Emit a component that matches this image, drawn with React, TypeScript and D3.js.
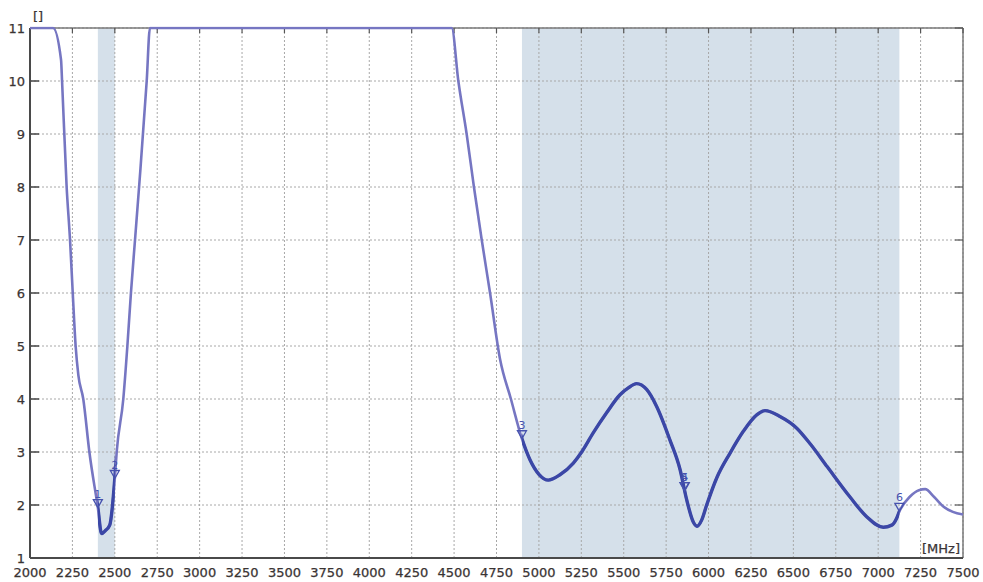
import React from "react";
import * as d3 from "d3";

const freqs = [
  2000, 2136, 2183, 2189, 2216, 2236, 2252, 2269, 2285, 2314, 2350, 2400, 2422, 2445, 2470, 2500,
  2511, 2550, 2574, 2595, 2619, 2643, 2688, 2707, 4486, 4525, 4574, 4617, 4663, 4712, 4771, 4835,
  4900, 4948, 5000, 5055, 5124, 5203, 5252, 5320, 5399, 5478, 5527, 5576, 5635, 5694, 5772,
  5832, 5871, 5910, 5932, 5960, 5989, 6048, 6127, 6205, 6284, 6333, 6421, 6520, 6600,
  6700, 6834, 6932, 7030, 7080, 7109, 7125, 7188, 7240, 7277, 7330, 7384, 7440, 7500,
];
const values = [
  11, 11, 10.4, 10.0, 8, 7, 6, 5, 4.45, 4.0, 3.0, 1.95, 1.46, 1.52, 1.62, 2.5,
  3.0, 4, 5, 6, 7, 8, 10, 11, 11, 10, 9, 8, 7, 6, 4.75, 4.0,
  3.25, 2.85, 2.58, 2.47, 2.57, 2.79, 3.0, 3.36, 3.74, 4.08, 4.21, 4.29, 4.18, 3.86, 3.23,
  2.67, 2.1, 1.68, 1.6, 1.72, 2.0, 2.51, 2.98, 3.39, 3.7, 3.78, 3.67, 3.45, 3.15,
  2.72, 2.15, 1.78, 1.58, 1.62, 1.75, 1.88, 2.16, 2.28, 2.3, 2.15, 1.97, 1.87, 1.82,
];

const bandStarts = [2400, 4900];
const bandEnds = [2500, 7125];

const markerLabels = ["1", "2", "3", "4", "5", "6"];
const markerFreqs = [2400, 2500, 4900, 5858, 5860, 7125];
const markerValues = [1.95, 2.5, 3.25, 2.27, 2.27, 1.88];

const xTicks = d3.range(2000, 7501, 250);
const yTicks = d3.range(1, 12, 1);

const W = 983;
const H = 582;
const L = 30, R = 963, T = 28, B = 558;

export default function App() {
  const x = d3.scaleLinear().domain([2000, 7500]).range([L, R]);
  const y = d3.scaleLinear().domain([1, 11]).range([B, T]);
  const pts: [number, number][] = freqs.map((f, i) => [f, values[i]]);
  const line = d3
    .line<[number, number]>()
    .x((d) => x(d[0]))
    .y((d) => y(Math.min(11, d[1])))
    .curve(d3.curveMonotoneX);
  const path = line(pts) || "";
  const font = "'DejaVu Sans', Verdana, sans-serif";
  const textColor = "#3a3434";

  return (
    <svg
      width={W}
      height={H}
      style={{ position: "absolute", left: 0, top: 0, background: "#fff" }}
    >
      <defs>
        <clipPath id="plotClip">
          <rect x={L} y={T - 1.5} width={R - L} height={B - T + 1.5} />
        </clipPath>
        <clipPath id="bandClip">
          {bandStarts.map((s, i) => (
            <rect key={i} x={x(s)} y={T - 3} width={x(bandEnds[i]) - x(s)} height={B - T + 3} />
          ))}
        </clipPath>
      </defs>
      {bandStarts.map((s, i) => (
        <rect key={"b" + i} x={x(s)} y={T} width={x(bandEnds[i]) - x(s)} height={B - T} fill="#d5e0ea" />
      ))}
      {xTicks.map((t) => (
        <line key={"gx" + t} x1={x(t)} x2={x(t)} y1={T} y2={B} stroke="#a8a8a8" strokeWidth={1} strokeDasharray="2,2" />
      ))}
      {yTicks.map((t) => (
        <line key={"gy" + t} x1={L} x2={R} y1={y(t)} y2={y(t)} stroke="#a8a8a8" strokeWidth={1} strokeDasharray="2,2" />
      ))}
      {/* frame */}
      <line x1={L} x2={R} y1={T} y2={T} stroke="#7a7a7a" strokeWidth={1.5} />
      <line x1={R} x2={R} y1={T} y2={B} stroke="#7a7a7a" strokeWidth={1.5} />
      {xTicks.map((t) => (
        <line key={"tt" + t} x1={x(t)} x2={x(t)} y1={T} y2={T + 5} stroke="#555" strokeWidth={1.2} />
      ))}
      {yTicks.map((t) => (
        <line key={"tr" + t} x1={R - 8} x2={R} y1={y(t)} y2={y(t)} stroke="#555" strokeWidth={1.2} />
      ))}
      {yTicks.map((t) => (
        <line key={"tl" + t} x1={L} x2={L + 9} y1={y(t)} y2={y(t)} stroke="#444" strokeWidth={1.5} />
      ))}
      <line x1={L} x2={L} y1={T} y2={B} stroke="#4a4a4a" strokeWidth={2} />
      <line x1={L} x2={R} y1={B} y2={B} stroke="#4a4a4a" strokeWidth={2} />
      {/* curve */}
      <g clipPath="url(#plotClip)">
        <path d={path} fill="none" stroke="#7676c2" strokeWidth={2.6} strokeLinejoin="round" />
        <path d={path} fill="none" stroke="#3b47a6" strokeWidth={3.4} strokeLinejoin="round" clipPath="url(#bandClip)" />
      </g>
      {/* markers */}
      {markerFreqs.map((f, i) => {
        const mx = x(f);
        const my = y(markerValues[i]);
        return (
          <g key={"m" + i}>
            <path
              d={`M${mx},${my} L${mx - 4.5},${my - 8} L${mx + 4.5},${my - 8} Z`}
              fill="none"
              stroke="#4652ae"
              strokeWidth={1.3}
            />
            <text x={mx} y={my - 10} textAnchor="middle" fontFamily={font} fontSize={11} fill="#4652ae">
              {markerLabels[i]}
            </text>
          </g>
        );
      })}
      {/* tick labels */}
      {xTicks.map((t) => (
        <text key={"lx" + t} x={x(t)} y={577} textAnchor="middle" fontFamily={font} fontSize={13} fill={textColor} stroke={textColor} strokeWidth={0.25}>
          {t}
        </text>
      ))}
      {yTicks.map((t) => (
        <text key={"ly" + t} x={25} y={y(t) + 4.5} textAnchor="end" fontFamily={font} fontSize={13} fill={textColor} stroke={textColor} strokeWidth={0.25}>
          {t}
        </text>
      ))}
      <text x={33} y={21} fontFamily={font} fontSize={13} fill={textColor} stroke={textColor} strokeWidth={0.25}>[]</text>
      <text x={960} y={553} textAnchor="end" fontFamily={font} fontSize={13} fill={textColor} stroke={textColor} strokeWidth={0.25}>[MHz]</text>
    </svg>
  );
}
